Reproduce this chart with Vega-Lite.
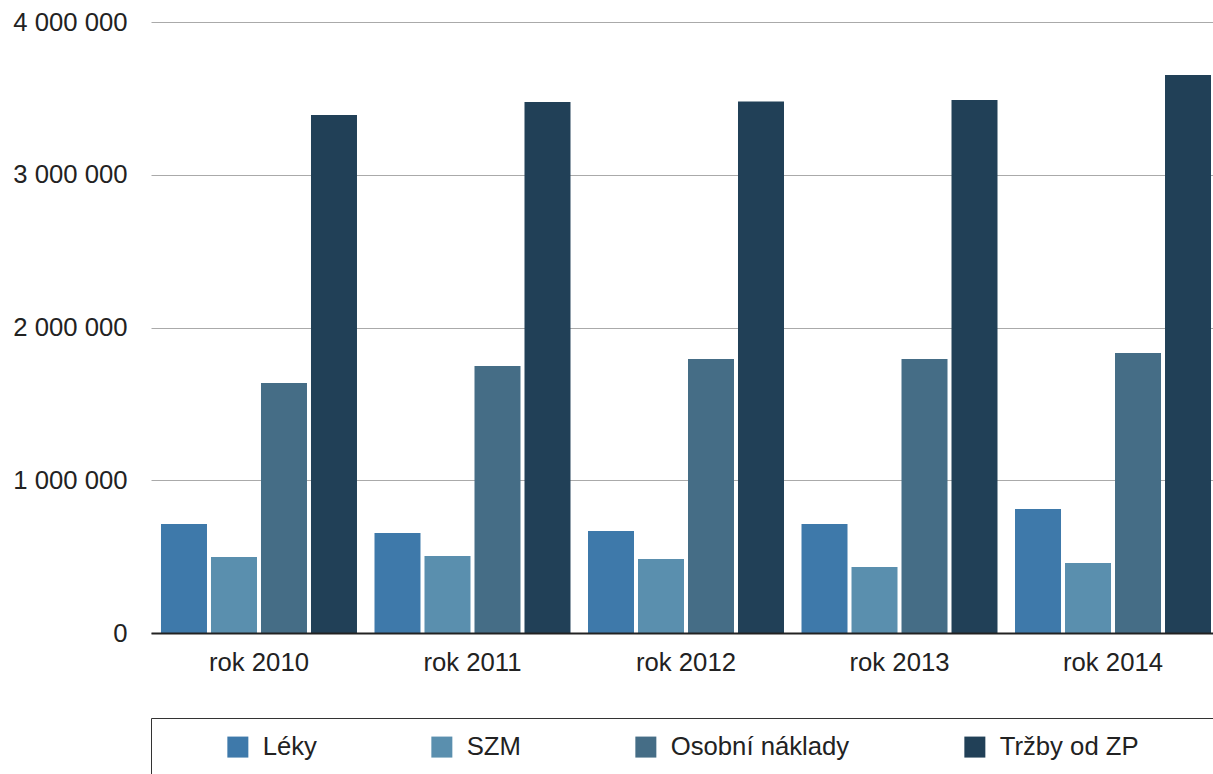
{
  "$schema": "https://vega.github.io/schema/vega-lite/v6.json",
  "width": 1062,
  "height": 611,
  "autosize": "none",
  "padding": {"left": 151, "top": 22, "right": 0, "bottom": 141},
  "config": {
    "locale": {"number": {"decimal": ",", "thousands": " ", "grouping": [3], "currency": ["", ""]}},
    "view": {"stroke": null},
    "font": "Liberation Sans"
  },
  "data": {
    "values": [
      {"rok": "rok 2010", "kat": "Léky", "hodnota": 713600},
      {"rok": "rok 2010", "kat": "SZM", "hodnota": 497500},
      {"rok": "rok 2010", "kat": "Osobní náklady", "hodnota": 1636700},
      {"rok": "rok 2010", "kat": "Tržby od ZP", "hodnota": 3391000},
      {"rok": "rok 2011", "kat": "Léky", "hodnota": 654700},
      {"rok": "rok 2011", "kat": "SZM", "hodnota": 504000},
      {"rok": "rok 2011", "kat": "Osobní náklady", "hodnota": 1748000},
      {"rok": "rok 2011", "kat": "Tržby od ZP", "hodnota": 3476000},
      {"rok": "rok 2012", "kat": "Léky", "hodnota": 667800},
      {"rok": "rok 2012", "kat": "SZM", "hodnota": 484500},
      {"rok": "rok 2012", "kat": "Osobní náklady", "hodnota": 1793800},
      {"rok": "rok 2012", "kat": "Tržby od ZP", "hodnota": 3480000},
      {"rok": "rok 2013", "kat": "Léky", "hodnota": 713600},
      {"rok": "rok 2013", "kat": "SZM", "hodnota": 432000},
      {"rok": "rok 2013", "kat": "Osobní náklady", "hodnota": 1793800},
      {"rok": "rok 2013", "kat": "Tržby od ZP", "hodnota": 3489000},
      {"rok": "rok 2014", "kat": "Léky", "hodnota": 811800},
      {"rok": "rok 2014", "kat": "SZM", "hodnota": 458300},
      {"rok": "rok 2014", "kat": "Osobní náklady", "hodnota": 1833000},
      {"rok": "rok 2014", "kat": "Tržby od ZP", "hodnota": 3653000}
    ]
  },
  "mark": {"type": "bar"},
  "encoding": {
    "x": {
      "field": "rok",
      "type": "nominal",
      "scale": {"paddingInner": 0.082, "paddingOuter": 0.0468, "range": [0, 1070]},
      "axis": {
        "title": null,
        "labelAngle": 0,
        "labelFontSize": 25.7,
        "labelColor": "#222",
        "labelPadding": 17,
        "ticks": false,
        "tickSize": 0,
        "domainColor": "#222",
        "domainWidth": 2,
        "labelLimit": 300,
        "zindex": 1
      }
    },
    "xOffset": {
      "field": "kat",
      "type": "nominal",
      "sort": ["Léky", "SZM", "Osobní náklady", "Tržby od ZP"],
      "scale": {"paddingInner": 0.08, "paddingOuter": 0}
    },
    "y": {
      "field": "hodnota",
      "type": "quantitative",
      "scale": {"domain": [0, 4000000], "nice": false},
      "axis": {
        "title": null,
        "format": ",d",
        "values": [0, 1000000, 2000000, 3000000, 4000000],
        "domain": false,
        "ticks": false,
        "tickSize": 0,
        "labelPadding": 24,
        "labelFontSize": 25.7,
        "labelColor": "#222",
        "gridColor": "#aaaaaa",
        "gridWidth": 1
      }
    },
    "color": {
      "field": "kat",
      "type": "nominal",
      "scale": {
        "domain": ["Léky", "SZM", "Osobní náklady", "Tržby od ZP"],
        "range": ["#3e79aa", "#5a8fae", "#456d86", "#214057"]
      },
      "legend": {
        "orient": "none",
        "legendX": 0,
        "legendY": 696,
        "direction": "horizontal",
        "title": "\u00a0",
        "titleOrient": "right",
        "titleFontSize": 1,
        "titleColor": "transparent",
        "titlePadding": 100,
        "symbolType": "square",
        "symbolSize": 441,
        "symbolStrokeWidth": 0,
        "symbolOpacity": 1,
        "symbolOffset": 58,
        "labelOffset": 12,
        "labelFontSize": 25.7,
        "labelColor": "#222",
        "labelLimit": 500,
        "columnPadding": 54,
        "padding": 16,
        "strokeColor": "#333333",
        "fillColor": "white"
      }
    }
  }
}
